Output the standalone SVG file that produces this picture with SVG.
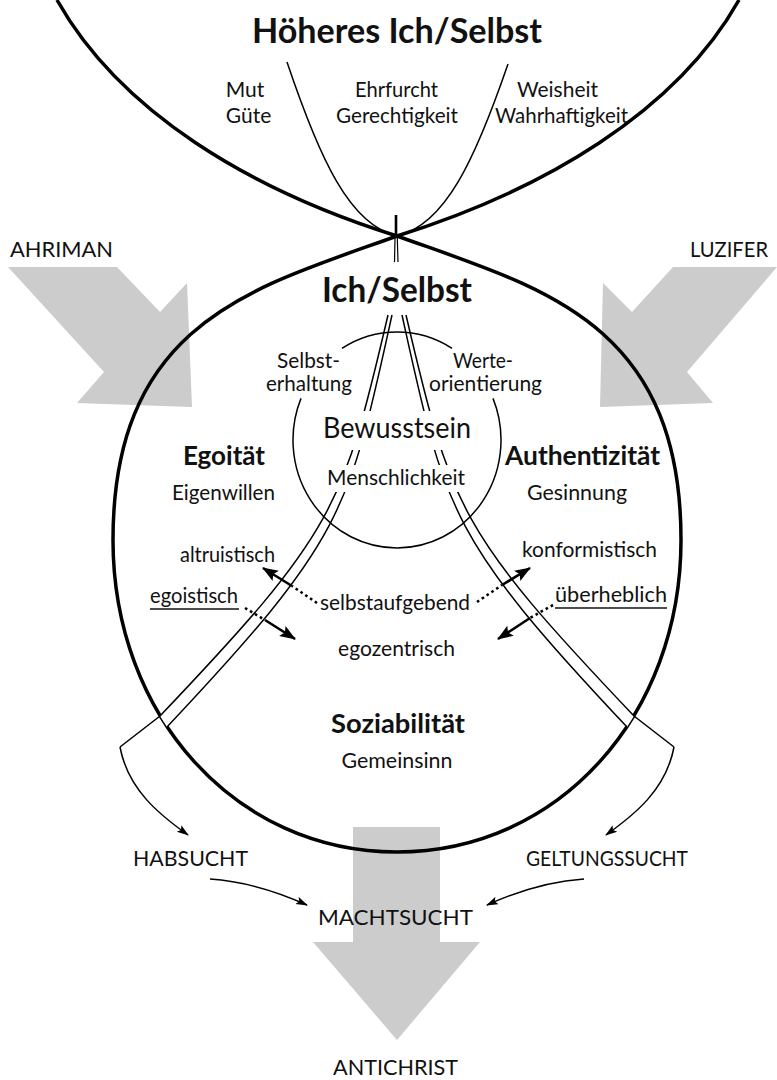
<svg xmlns="http://www.w3.org/2000/svg" width="777" height="1080" viewBox="0 0 777 1080">
<defs>
<style>
text{font-family:Lato,"Open Sans","Liberation Sans",sans-serif;fill:#111;text-anchor:middle;font-size:21px}
.h{font-size:35px;font-weight:bold}
.s{font-size:27px;font-weight:bold}
.bw{font-size:28px}
.thick{fill:none;stroke:#000;stroke-width:3.5}
.thin{fill:none;stroke:#000;stroke-width:1.5}
.gray{fill:#ccc}
.sol{stroke:#000;stroke-width:2.6;fill:none}
.dot{stroke:#000;stroke-width:2.6;fill:none;stroke-dasharray:2.6 3.2}
.wt{fill:#fff;stroke:none}
</style>
<marker id="ah" markerUnits="userSpaceOnUse" markerWidth="18" markerHeight="14" refX="15" refY="6" orient="auto"><path d="M0,0 L16,6 L0,12 L3,6 z" fill="#000"/></marker>
<marker id="at" markerUnits="userSpaceOnUse" markerWidth="13" markerHeight="10" refX="11" refY="4" orient="auto"><path d="M0,0 L12,4 L0,8 L2.5,4 z" fill="#000"/></marker>
</defs>
<rect width="777" height="1080" fill="#fff"/>

<g id="force-arrows">
<polygon id="ahriman-arrow" class="gray" points="8,267 117,267 160,312 187,283 192,407 77,403 104,372"/>
<polygon id="luzifer-arrow" class="gray" points="777,267 673,267 632,312 603,283 600,407 713,403 687,372"/>
<polygon id="antichrist-arrow" class="gray" points="353,827 440,827 440,942 480,942 397,1040 313,942 353,942"/>
</g>

<g id="connectors">
<path id="top-cup" class="thick" d="M57,0 C120,112 250,190 397,236 C544,190 676,112 739,0"/>
<path id="inner-cup" class="thin" d="M287,62 C320,160 350,225 397,236 C445,225 475,160 508,64"/>
<path id="big-circle" class="thick" d="M397,236 C256,287 113,320 113,540 C113,715 235,852 397,852 C559,852 681,715 681,540 C681,320 538,287 397,236 Z"/>
<line x1="396" y1="215" x2="396" y2="238" stroke="#000" stroke-width="2.6"/>
<line x1="395" y1="238" x2="394.5" y2="262" stroke="#000" stroke-width="1.2"/>
<line x1="397.3" y1="238" x2="398" y2="262" stroke="#000" stroke-width="1.2"/>

<g id="band-left">
<path class="wt" d="M388,315 C343,508 335,532 160,716 L167,727 C346,537 349,510 392,315 Z"/>
</g>
<g id="band-right" transform="matrix(-1 0 0 1 794 0)">
<path class="wt" d="M388,315 C343,508 335,532 160,716 L167,727 C346,537 349,510 392,315 Z"/>
</g>

<g id="small-circle">
<path class="thin" d="M342,348.3 A104,108 0 0 1 452,348.3"/>
<path class="thin" d="M301,398.4 A104,108 0 1 0 493,398.4"/>
</g>

<g id="band-left-lines">
<path class="thin" d="M388,315 C343,508 335,532 160,716 L120,747"/>
<path class="thin" d="M392,315 C349,510 346,537 167,727"/>
<path class="thin" d="M120,747 C128,790 160,815 188,835" marker-end="url(#at)"/>
</g>
<g id="band-right-lines" transform="matrix(-1 0 0 1 794 0)">
<path class="thin" d="M388,315 C343,508 335,532 160,716 L120,747"/>
<path class="thin" d="M392,315 C349,510 346,537 167,727"/>
<path class="thin" d="M120,747 C128,790 160,815 188,835" marker-end="url(#at)"/>
</g>

<rect class="wt" x="320" y="411" width="155" height="39"/>
<rect class="wt" x="325" y="465" width="145" height="27"/>

<path class="thin" d="M210,879 Q256,882 307,905" marker-end="url(#at)"/>
<path class="thin" d="M584,879 Q538,882 487,905" marker-end="url(#at)"/>

<g id="dotted-arrows">
<path class="dot" d="M317,603 L292,586"/>
<path class="sol" d="M292,586 L263,568" marker-end="url(#ah)"/>
<path class="dot" d="M245,608 L265,620"/>
<path class="sol" d="M265,620 L295,639" marker-end="url(#ah)"/>
<path class="dot" d="M477,602 L502,585"/>
<path class="sol" d="M502,585 L530,568" marker-end="url(#ah)"/>
<path class="dot" d="M553,605 L530,618"/>
<path class="sol" d="M530,618 L498,639" marker-end="url(#ah)"/>
</g>
</g>

<g id="hoeheres-ich"><text class="h" x="397" y="43" textLength="290" lengthAdjust="spacingAndGlyphs">Höheres Ich/Selbst</text></g>
<g id="mut"><text x="245" y="97">Mut</text><text x="248.5" y="123">Güte</text></g>
<g id="ehrfurcht"><text x="396.5" y="97" textLength="83" lengthAdjust="spacingAndGlyphs">Ehrfurcht</text><text x="397" y="123" textLength="122" lengthAdjust="spacingAndGlyphs">Gerechtigkeit</text></g>
<g id="weisheit"><text x="557.5" y="97" textLength="81" lengthAdjust="spacingAndGlyphs">Weisheit</text><text x="561.5" y="123" textLength="133" lengthAdjust="spacingAndGlyphs">Wahrhaftigkeit</text></g>
<g id="ahriman"><text x="61.5" y="257" textLength="103" lengthAdjust="spacingAndGlyphs">AHRIMAN</text></g>
<g id="luzifer"><text x="729" y="257" textLength="78" lengthAdjust="spacingAndGlyphs">LUZIFER</text></g>
<g id="ich-selbst"><text class="h" x="397" y="302" textLength="150" lengthAdjust="spacingAndGlyphs">Ich/Selbst</text></g>
<g id="selbsterhaltung"><text x="308.5" y="368" textLength="63" lengthAdjust="spacingAndGlyphs">Selbst-</text><text x="309" y="391" textLength="86" lengthAdjust="spacingAndGlyphs">erhaltung</text></g>
<g id="werteorientierung"><text x="483" y="368" textLength="60" lengthAdjust="spacingAndGlyphs">Werte-</text><text x="485.5" y="391" textLength="113" lengthAdjust="spacingAndGlyphs">orientierung</text></g>
<g id="bewusstsein"><text class="bw" x="397" y="438" textLength="148" lengthAdjust="spacingAndGlyphs">Bewusstsein</text></g>
<g id="menschlichkeit"><text x="396" y="485" textLength="138" lengthAdjust="spacingAndGlyphs">Menschlichkeit</text></g>
<g id="egoitaet"><text class="s" x="224" y="465" textLength="82" lengthAdjust="spacingAndGlyphs">Egoität</text><text x="223.5" y="500" textLength="103" lengthAdjust="spacingAndGlyphs">Eigenwillen</text></g>
<g id="authentizitaet"><text class="s" x="582.5" y="465" textLength="155" lengthAdjust="spacingAndGlyphs">Authentizität</text><text x="577" y="500" textLength="100" lengthAdjust="spacingAndGlyphs">Gesinnung</text></g>
<g id="altruistisch"><text x="227.5" y="562" textLength="95" lengthAdjust="spacingAndGlyphs">altruistisch</text></g>
<g id="konformistisch"><text x="589.5" y="557" textLength="135" lengthAdjust="spacingAndGlyphs">konformistisch</text></g>
<g id="egoistisch"><text x="194" y="603" textLength="88" lengthAdjust="spacingAndGlyphs">egoistisch</text><line x1="150" y1="609" x2="239" y2="609" stroke="#111" stroke-width="1.5"/></g>
<g id="ueberheblich"><text x="611" y="602" textLength="112" lengthAdjust="spacingAndGlyphs">überheblich</text><line x1="555" y1="608" x2="667" y2="608" stroke="#111" stroke-width="1.5"/></g>
<g id="selbstaufgebend"><text x="395" y="610" textLength="150" lengthAdjust="spacingAndGlyphs">selbstaufgebend</text></g>
<g id="egozentrisch"><text x="396.5" y="656" textLength="117" lengthAdjust="spacingAndGlyphs">egozentrisch</text></g>
<g id="soziabilitaet"><text class="s" x="398" y="733" textLength="134" lengthAdjust="spacingAndGlyphs">Soziabilität</text><text x="397" y="768" textLength="111" lengthAdjust="spacingAndGlyphs">Gemeinsinn</text></g>
<g id="habsucht"><text x="190.5" y="866" textLength="115" lengthAdjust="spacingAndGlyphs">HABSUCHT</text></g>
<g id="geltungssucht"><text x="607" y="866" textLength="162" lengthAdjust="spacingAndGlyphs">GELTUNGSSUCHT</text></g>
<g id="machtsucht"><text x="395.5" y="925" textLength="155" lengthAdjust="spacingAndGlyphs">MACHTSUCHT</text></g>
<g id="antichrist"><text x="395.5" y="1075" textLength="125" lengthAdjust="spacingAndGlyphs">ANTICHRIST</text></g>
</svg>
